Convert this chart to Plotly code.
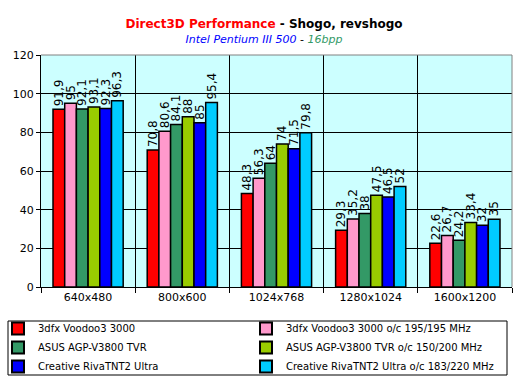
import plotly.graph_objects as go

categories = ["640x480", "800x600", "1024x768", "1280x1024", "1600x1200"]
series_names = [
    "3dfx Voodoo3 3000",
    "3dfx Voodoo3 3000 o/c 195/195 MHz",
    "ASUS AGP-V3800 TVR",
    "ASUS AGP-V3800 TVR o/c 150/200 MHz",
    "Creative RivaTNT2 Ultra",
    "Creative RivaTNT2 Ultra o/c 183/220 MHz",
]
voodoo = [91.9, 70.8, 48.3, 29.3, 22.6]
voodoo_oc = [95, 80.6, 56.3, 35.2, 26.7]
asus = [92.1, 84.1, 64, 38, 24.2]
asus_oc = [93.1, 88, 74, 47.5, 33.4]
tnt2 = [92.3, 85, 71.5, 46.5, 32]
tnt2_oc = [96.3, 95.4, 79.8, 52, 35]
series_values = [voodoo, voodoo_oc, asus, asus_oc, tnt2, tnt2_oc]
colors = ["#FF0000", "#FF99CC", "#339966", "#99CC00", "#0000FF", "#00CCFF"]

FONT = "DejaVu Sans"
W, H = 528, 377
ML, MR, MT, MB = 41, 16, 55, 90
PW, PH = W - ML - MR, H - MT - MB


def px_x(px):
    return (px - ML) / PW


def px_y(py):
    return (H - MB - py) / PH


fig = go.Figure()
for i, (name, vals, col) in enumerate(zip(series_names, series_values, colors)):
    fig.add_trace(go.Bar(
        x=categories, y=vals, name=name,
        legend="legend" if i % 2 == 0 else "legend2",
        marker=dict(color=col, line=dict(color="black", width=1.5)),
        text=[str(v).replace(".", ",") for v in vals],
        textposition="outside", textangle=-90, constraintext="none",
        cliponaxis=False,
        textfont=dict(family=FONT, size=12, color="black"),
    ))

legend_common = dict(
    orientation="v", yanchor="top", xanchor="left",
    bgcolor="rgba(0,0,0,0)", borderwidth=0,
    font=dict(family=FONT, size=10), traceorder="normal",
    itemsizing="constant", tracegroupgap=0,
)

fig.update_layout(
    width=W, height=H,
    margin=dict(l=ML, r=MR, t=MT, b=MB, autoexpand=False),
    paper_bgcolor="white", plot_bgcolor="#CCFFFF",
    barmode="group", bargap=0.255, bargroupgap=0,
    font=dict(family=FONT, size=11, color="black"),
    title=dict(
        text=("<b><span style='color:#FF0000'>Direct3D Performance</span> - Shogo, revshogo</b><br>"
              "<span style='font-size:11px'><i><span style='color:#0000FF'>Intel Pentium III 500</span></i> - "
              "<i><span style='color:#339966'>16bpp</span></i></span>"),
        x=0.5, xanchor="center", y=0.926, yanchor="top",
        font=dict(family=FONT, size=12, color="black"),
    ),
    xaxis=dict(
        tickson="boundaries", showgrid=True, gridcolor="black", gridwidth=1,
        ticks="outside", ticklen=5, tickcolor="black",
        showline=True, linecolor="black", linewidth=1,
        tickfont=dict(family=FONT, size=11),
    ),
    yaxis=dict(
        range=[0, 120], dtick=20, showgrid=True, gridcolor="black", gridwidth=1,
        ticks="outside", ticklen=4, tickcolor="black",
        showline=True, linecolor="black", linewidth=1, zeroline=False,
        tickfont=dict(family=FONT, size=11),
    ),
    legend=dict(x=px_x(-2), y=px_y(314), **legend_common),
    legend2=dict(x=px_x(246), y=px_y(314), **legend_common),
    showlegend=True,
)
# legend frame
fig.add_shape(type="rect", xref="paper", yref="paper",
              x0=px_x(8), x1=px_x(507), y0=px_y(375), y1=px_y(321),
              line=dict(color="black", width=1), fillcolor="rgba(0,0,0,0)")
# grey top/right border of plot area
fig.add_shape(type="line", xref="paper", yref="paper", x0=0, x1=1, y0=1, y1=1,
              line=dict(color="#808080", width=1))
fig.add_shape(type="line", xref="paper", yref="paper", x0=1, x1=1, y0=0, y1=1,
              line=dict(color="#808080", width=1))

fig.write_html("out.html", config={"displayModeBar": False},
               post_script="document.body.style.margin='0';")
